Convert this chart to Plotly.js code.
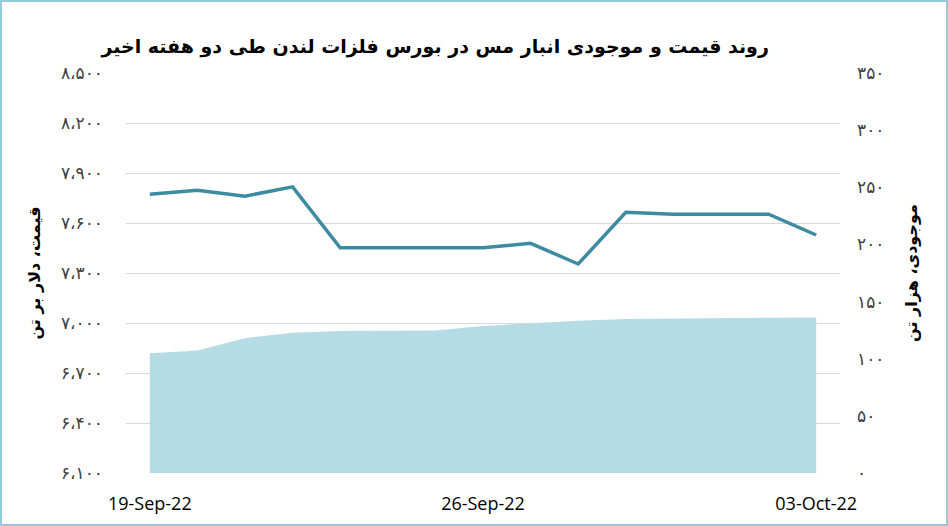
<!DOCTYPE html>
<html>
<head>
<meta charset="utf-8">
<script src="https://cdn.plot.ly/plotly-3.0.1.min.js"></script>
<style>
  html, body { margin:0; padding:0; background:#fff; }
  #chart { width:948px; height:526px; }
  #frame { position:fixed; left:0; top:0; width:948px; height:526px; box-sizing:border-box;
           border:2px solid #93cbdc; pointer-events:none; }
</style>
</head>
<body>
<div id="chart"></div>
<div id="frame"></div>
<script>
// ---- data ----
const dates = ['2022-09-19','2022-09-20','2022-09-21','2022-09-22','2022-09-23','2022-09-24','2022-09-25',
               '2022-09-26','2022-09-27','2022-09-28','2022-09-29','2022-09-30','2022-10-01','2022-10-02','2022-10-03'];
const price = [7773, 7797, 7761, 7817, 7451, 7451, 7451, 7451, 7478, 7354, 7664, 7653, 7653, 7653, 7528];
const stock = [104.8, 107.1, 118, 122.8, 124.3, 124.5, 124.6, 128.7, 131, 133.3, 134.8, 135.3, 135.6, 135.8, 136];

const priceTickVals = [6100, 6400, 6700, 7000, 7300, 7600, 7900, 8200, 8500];
const priceTickText = ['۶،۱۰۰','۶،۴۰۰','۶،۷۰۰','۷،۰۰۰','۷،۳۰۰','۷،۶۰۰','۷،۹۰۰','۸،۲۰۰','۸،۵۰۰'];
const stockTickVals = [0, 50, 100, 150, 200, 250, 300, 350];
const stockTickText = ['۰','۵۰','۱۰۰','۱۵۰','۲۰۰','۲۵۰','۳۰۰','۳۵۰'];
const dateTickVals = ['2022-09-19','2022-09-26','2022-10-03'];

const titleText = 'روند قیمت و موجودی انبار مس در بورس فلزات لندن طی دو هفته اخیر';
const leftTitle = 'قیمت، دلار بر تن';
const rightTitle = 'موجودی، هزار تن';

const traces = [
  { x: dates, y: price, type: 'scatter', mode: 'lines', yaxis: 'y',
    line: { color: '#3c8ba1', width: 3.5 }, hoverinfo: 'x+y', name: 'price' },
  { x: dates, y: stock, type: 'scatter', mode: 'lines', yaxis: 'y2', fill: 'tozeroy',
    fillcolor: '#b5dbe5', line: { color: '#b5dbe5', width: 0 }, name: 'stock' }
];

const layout = {
  width: 948, height: 526,
  margin: { l: 126, r: 108, t: 73, b: 53 },
  paper_bgcolor: '#ffffff', plot_bgcolor: '#ffffff',
  showlegend: false,
  font: { family: 'DejaVu Sans, sans-serif', color: '#404040' },
  title: { text: titleText, xref: 'container', yref: 'container', x: 0.459, xanchor: 'center',
           y: 1 - 46/526, yanchor: 'middle',
           font: { family: 'DejaVu Sans, sans-serif', size: 19, color: '#000', weight: 'bold' } },
  xaxis: { type: 'date', range: ['2022-09-18 12:00', '2022-10-03 12:00'],
           tickvals: dateTickVals, tickformat: '%d-%b-%y', showgrid: false, zeroline: false,
           showline: false, ticks: '', ticklabelstandoff: 18,
           tickfont: { family: 'Open Sans, sans-serif', size: 18, color: '#000' } },
  yaxis: { range: [6100, 8500], tickvals: priceTickVals, ticktext: priceTickText,
           showgrid: true, gridcolor: '#d9d9d9', gridwidth: 1, zeroline: false, ticks: '',
           ticklabelstandoff: 22, tickfont: { size: 17, color: '#404040' },
           title: { text: leftTitle, standoff: 16,
                    font: { size: 16, color: '#000', weight: 'bold' } } },
  yaxis2: { range: [0, 350], overlaying: 'y', side: 'right', tickvals: stockTickVals,
            ticktext: stockTickText, showgrid: false, zeroline: false, ticks: '',
            ticklabelstandoff: 16, tickfont: { size: 17, color: '#404040' },
            title: { text: rightTitle, standoff: 22,
                     font: { size: 16, color: '#000', weight: 'bold' } } }
};

Plotly.newPlot('chart', traces, layout, { displayModeBar: false, staticPlot: true });
</script>
</body>
</html>
